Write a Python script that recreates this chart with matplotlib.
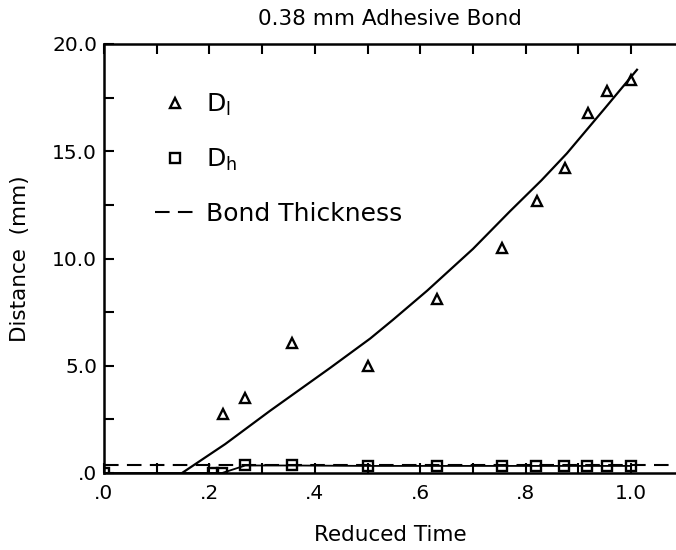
import numpy as np
import matplotlib
matplotlib.use("Agg")
import matplotlib.pyplot as plt

# data
t_dl = [0.226, 0.268, 0.357, 0.500, 0.632, 0.755, 0.822, 0.875, 0.918, 0.954, 1.000]
d_l = [2.76, 3.50, 6.08, 5.00, 8.10, 10.50, 12.67, 14.24, 16.80, 17.80, 18.34]

t_dh = [0.0, 0.207, 0.224, 0.268, 0.357, 0.500, 0.632, 0.755, 0.820, 0.873, 0.916, 0.954, 1.000]
d_h = [0.0, 0.0, 0.0, 0.35, 0.35, 0.33, 0.33, 0.33, 0.33, 0.33, 0.33, 0.33, 0.33]

# fitted curve, points
t_fit = [0.148, 0.230, 0.315, 0.429, 0.505, 0.548, 0.613, 0.700, 0.770, 0.830, 0.878, 0.950, 1.011]
d_fit = [0.0, 1.35, 2.90, 4.90, 6.27, 7.14, 8.50, 10.45, 12.20, 13.65, 14.90, 17.00, 18.80]

bond_thickness = 0.38

plt.rcParams['font.family'] = 'DejaVu Sans'

fig = plt.figure(figsize=(6.76, 5.5), dpi=100)
ax = fig.add_axes([104 / 676, 1 - 473 / 550, 1 - 104 / 676, (473 - 44) / 550])

ax.plot(t_fit, d_fit, color='black', lw=1.6)
ax.plot(t_dh, d_h, color='black', lw=1.3)
ax.plot(t_dl, d_l, '^', ms=7, mfc='none', mec='black', mew=1.7, color='black', label=r'D$_\mathregular{l}$')
ax.plot(t_dh, d_h, 's', ms=6.5, mfc='none', mec='black', mew=1.7, color='black', label=r'D$_\mathregular{h}$')
ax.axhline(bond_thickness, color='black', lw=1.5, dashes=(7, 4), label='Bond Thickness')

ax.set_xlim(0, 1.085)
ax.set_ylim(0, 20)
ax.set_xticks([0, 0.2, 0.4, 0.6, 0.8, 1.0])
ax.set_xticklabels(['.0', '.2', '.4', '.6', '.8', '1.0'])
ax.set_xticks(np.arange(0.1, 1.05, 0.2), minor=True)
ax.set_yticks([0, 5, 10, 15, 20])
ax.set_yticklabels(['.0', '5.0', '10.0', '15.0', '20.0'])
ax.set_yticks([2.5, 7.5, 12.5, 17.5], minor=True)

ax.tick_params(which='both', direction='in', length=7, width=1.5, top=True, labelsize=14.5, pad=5)
ax.tick_params(axis='x', pad=8)
for side in ['left', 'bottom', 'top']:
    ax.spines[side].set_linewidth(1.8)
ax.spines['right'].set_visible(False)

ax.set_title('0.38 mm Adhesive Bond', fontsize=15.5, pad=14)
ax.set_xlabel('Reduced Time', fontsize=15.5, labelpad=16)
ax.set_ylabel('Distance  (mm)', fontsize=15.5, labelpad=16)

ax.legend(loc='upper left', bbox_to_anchor=(0.05, 0.94), frameon=False, fontsize=18,
          handlelength=1.6, handletextpad=0.45, labelspacing=1.15)

fig.savefig('out.png', dpi=100)
